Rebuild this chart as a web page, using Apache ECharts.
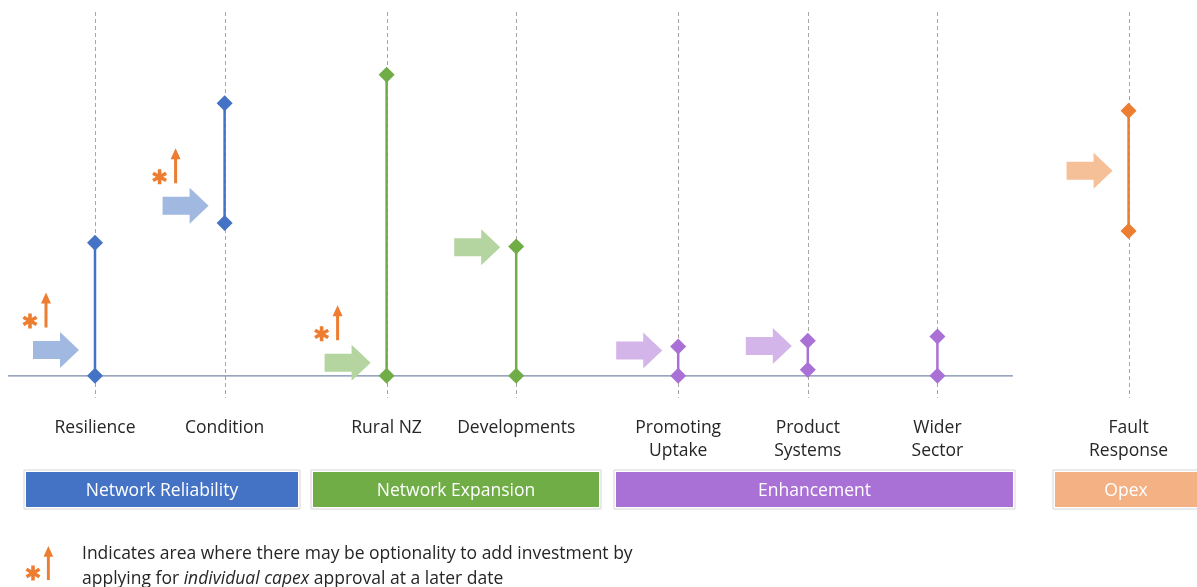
<!DOCTYPE html>
<html><head><meta charset="utf-8">
<script src="https://cdn.jsdelivr.net/npm/echarts@6/dist/echarts.min.js"></script>
<style>html,body{margin:0;padding:0;background:#fff}#c{width:1197px;height:587px}</style>
</head><body><div id="c"></div>
<script>
// ---- data ----
const categories = ['Resilience','Condition','Rural NZ','Developments','Promoting\nUptake','Product\nSystems','Wider\nSector','Fault\nResponse'];
const xPositions = [0, 4, 9, 13, 18, 22, 26, 31.9];
const groupIndex = [0, 0, 1, 1, 2, 2, 2, 3];
const rangeLow  = [0, 50.6, 0, 0, 0, 2.0, 0, 48.0];
const rangeHigh = [44.1, 90.3, 99.7, 42.8, 9.7, 11.6, 13.0, 87.8];
const arrowLevel = [8.6, 56.3, 4.3, 42.6, 8.4, 9.9, null, 67.9];
const optionality = [1, 1, 1, 0, 0, 0, 0, 0];
const groupNames = ['Network Reliability', 'Network Expansion', 'Enhancement', 'Opex'];
const legendLines = ['Indicates area where there may be optionality to add investment by', 'applying for ', 'individual capex', ' approval at a later date'];

// ---- styles ----
const groupColors = ['#4472C4', '#70AD47', '#A970D6', '#ED7D31'];
const groupLightColors = ['#a1b8e1', '#b4d59f', '#d4b5e9', '#f5bf98'];
const groupBoxColors = ['#4472C4', '#70AD47', '#A970D6', '#F4B183'];
const groupBoxes = [[26, 272], [313, 286], [616, 397], [1055, 142]];
const ORANGE = '#ED7D31';
const TEXT = '#262626';
const FS = 17.5;
const FONT = '"Open Sans", sans-serif';
const BLOCK_ARROW = 'path://M0,9L27,9L27,0L46,18L27,36L27,27L0,27Z';
const UP_ARROW = 'path://M5,0L10,11L6.5,11L6.5,35L3.5,35L3.5,11L0,11Z';
const UP_ARROW_PTS = [[5,0],[10,11],[6.5,11],[6.5,35],[3.5,35],[3.5,11],[0,11]];
const AST_BARS = [
  [[6.1,0],[9.9,0],[9.9,16],[6.1,16]],
  [[15.93,10.27],[14.03,13.56],[0.07,5.73],[1.97,2.44]],
  [[14.03,2.44],[15.93,5.73],[1.97,13.56],[0.07,10.27]]
];
const ASTERISK = 'path://' + AST_BARS.map(b => 'M' + b.map(p => p.join(',')).join('L') + 'Z').join('');
const Y_MIN = -8, Y_MAX = 120.5, DASH_BOTTOM = -7.3;
const X_MIN = -2.932, X_MAX = 34.012;
const BASE_FROM = -2.685, BASE_TO = 28.33;

function place(pts, x, y, s) { return pts.map(p => [x + p[0] * s, y + p[1] * s]); }

const chart = echarts.init(document.getElementById('c'), null, {renderer: 'canvas'});

const rangeData = xPositions.map((x, i) => [x, rangeLow[i], rangeHigh[i], groupIndex[i]]);
const diamondData = [];
xPositions.forEach((x, i) => {
  const c = groupColors[groupIndex[i]];
  diamondData.push({value: [x, rangeLow[i]], itemStyle: {color: c}});
  diamondData.push({value: [x, rangeHigh[i]], itemStyle: {color: c}});
});
const arrowData = [];
const optData = [];
xPositions.forEach((x, i) => {
  if (arrowLevel[i] == null) return;
  arrowData.push({value: [x, arrowLevel[i]], itemStyle: {color: groupLightColors[groupIndex[i]]}});
  if (optionality[i]) optData.push([x, arrowLevel[i]]);
});
const labelData = xPositions.map((x, i) => [x, 0, i]);

const graphic = [];
groupBoxes.forEach((b, i) => {
  graphic.push({type: 'rect', shape: {x: b[0] - 2, y: 470, width: b[1] + 4, height: 39},
    style: {fill: '#fff', stroke: '#d6d6d6', lineWidth: 1}, z: 1});
  graphic.push({type: 'rect', shape: {x: b[0], y: 472, width: b[1], height: 35},
    style: {fill: groupBoxColors[i]}, z: 2});
  graphic.push({type: 'text', x: b[0] + b[1] / 2, y: 491.5, z: 3,
    style: {text: groupNames[i], fill: '#fff', font: FS + 'px ' + FONT, textAlign: 'center', textVerticalAlign: 'middle'}});
});
graphic.push({type: 'polygon', shape: {points: place(UP_ARROW_PTS, 43.5, 546, 34 / 35)}, style: {fill: ORANGE}});
AST_BARS.forEach(b => graphic.push({type: 'polygon', shape: {points: place(b, 25.5, 565.5, 15 / 16)}, style: {fill: ORANGE}}));
graphic.push({type: 'text', x: 82, y: 554, style: {text: legendLines[0], fill: TEXT, font: FS + 'px ' + FONT, textVerticalAlign: 'middle'}});
graphic.push({type: 'text', x: 82, y: 579, style: {
  text: '{n|' + legendLines[1] + '}{i|' + legendLines[2] + '}{n|' + legendLines[3] + '}',
  textVerticalAlign: 'middle',
  rich: {n: {fill: TEXT, font: FS + 'px ' + FONT}, i: {fill: TEXT, font: 'italic ' + FS + 'px ' + FONT}}
}});

chart.setOption({
  animation: false,
  backgroundColor: '#fff',
  grid: {left: 0, right: 0, top: 12, bottom: 187, containLabel: false},
  xAxis: {type: 'value', min: X_MIN, max: X_MAX, show: false},
  yAxis: {type: 'value', min: Y_MIN, max: Y_MAX, show: false},
  graphic: graphic,
  series: [
    { // dashed guide lines
      type: 'custom', z: 1, silent: true,
      data: xPositions.map(x => [x, 0]),
      encode: {x: 0, y: 1},
      renderItem: (params, api) => {
        const t = api.coord([api.value(0), Y_MAX]);
        const b = api.coord([api.value(0), DASH_BOTTOM]);
        return {type: 'line', shape: {x1: Math.round(t[0]) + 0.5, y1: t[1], x2: Math.round(b[0]) + 0.5, y2: b[1]},
          style: {stroke: '#a6a6a6', lineWidth: 1, lineDash: [4, 3]}};
      }
    },
    { // baseline
      type: 'line', z: 2, silent: true, symbol: 'none',
      data: [[BASE_FROM, 0], [BASE_TO, 0]],
      lineStyle: {color: '#7889a8', width: 1.2}
    },
    { // block arrows
      type: 'scatter', z: 3, silent: true,
      symbol: BLOCK_ARROW, symbolSize: [46, 36], symbolOffset: [-39, 0],
      itemStyle: {opacity: 1},
      data: arrowData
    },
    { // range lines
      type: 'custom', z: 4, silent: true,
      data: rangeData,
      encode: {x: 0, y: [1, 2]},
      renderItem: (params, api) => {
        const lo = api.coord([api.value(0), api.value(1)]);
        const hi = api.coord([api.value(0), api.value(2)]);
        return {type: 'line', shape: {x1: lo[0], y1: lo[1], x2: hi[0], y2: hi[1]},
          style: {stroke: groupColors[api.value(3)], lineWidth: 2.5}};
      }
    },
    { // diamonds
      type: 'scatter', z: 5, silent: true,
      symbol: 'diamond', symbolSize: 16,
      itemStyle: {opacity: 1},
      data: diamondData
    },
    { // optionality up arrows
      type: 'scatter', z: 5, silent: true,
      symbol: UP_ARROW, symbolSize: [10, 35], symbolOffset: [-49, -40],
      itemStyle: {color: ORANGE, opacity: 1},
      data: optData
    },
    { // optionality asterisks
      type: 'scatter', z: 5, silent: true,
      symbol: ASTERISK, symbolSize: [15, 15], symbolOffset: [-65, -29],
      itemStyle: {color: ORANGE, opacity: 1},
      data: optData
    },
    { // category labels
      type: 'custom', z: 5, silent: true, clip: false,
      data: labelData,
      encode: {x: 0, y: 1},
      renderItem: (params, api) => {
        const p = api.coord([api.value(0), api.value(1)]);
        return {type: 'text', x: p[0], y: p[1] + 41,
          style: {text: categories[api.value(2)], fill: TEXT, font: FS + 'px ' + FONT,
            textAlign: 'center', textVerticalAlign: 'top', lineHeight: 23}};
      }
    }
  ]
});
</script>
</body></html>
